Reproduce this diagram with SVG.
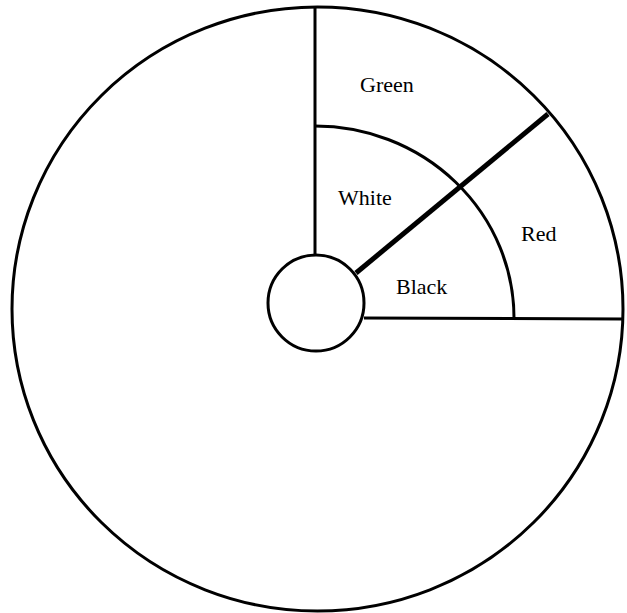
<svg xmlns="http://www.w3.org/2000/svg" width="627" height="613" viewBox="0 0 627 613">
<style>
.ln{fill:none;stroke:#000;stroke-width:3}
.thick{fill:none;stroke:#000;stroke-width:5}
.lbl{font-family:"Liberation Serif","Times New Roman",serif;font-size:22px;fill:#000}
</style>
<rect width="627" height="613" fill="#fff"/>
<g id="outer"><ellipse class="ln" cx="317.5" cy="309" rx="305.5" ry="302"/></g>
<g id="hub"><circle class="ln" cx="316" cy="303" r="48"/></g>
<g id="connectors">
<line class="ln" x1="315" y1="7" x2="315" y2="255"/>
<line class="ln" x1="364" y1="318" x2="623" y2="319"/>
<line class="thick" x1="356" y1="273" x2="548" y2="114"/>
<path class="ln" d="M315,126 A199,192 0 0 1 514,318"/>
</g>
<g id="green"><text class="lbl" x="360" y="92">Green</text></g>
<g id="white"><text class="lbl" x="338" y="205">White</text></g>
<g id="red"><text class="lbl" x="521" y="241">Red</text></g>
<g id="black"><text class="lbl" x="396" y="294">Black</text></g>
</svg>
